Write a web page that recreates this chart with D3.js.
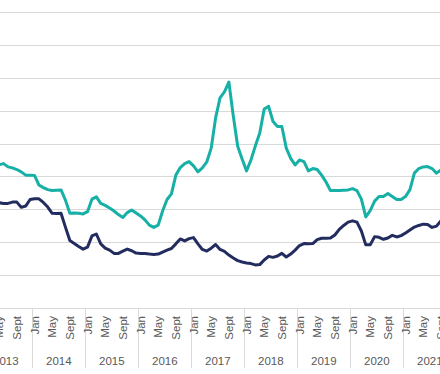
<!DOCTYPE html>
<html>
<head>
<meta charset="utf-8">
<script src="https://cdn.jsdelivr.net/npm/d3@7"></script>
<style>
  html, body { margin: 0; padding: 0; background: #ffffff; overflow: hidden; }
  svg { display: block; }
  text { font-family: "Liberation Sans", Arial, sans-serif; fill: #595959; }
</style>
</head>
<body>
<div id="chart"></div>
<script>
// ---- data ----
const years = [2013, 2014, 2015, 2016, 2017, 2018, 2019, 2020, 2021];
const monthNames = ["Jan","Feb","Mar","Apr","May","Jun","Jul","Aug","Sept","Oct","Nov","Dec"];
const shownMonthLabels = ["Jan", "May", "Sept"];
const seriesStart = { year: 2013, month: 3 }; // April 2013 (0-based month)

const tealValues = [
  43.8, 43.6, 43.9, 42.9, 42.6, 42.1, 41.4, 40.4, 40.4,
  40.3, 37.4, 36.6, 36.0, 35.7, 35.8, 35.9, 32.8, 28.8, 28.9, 28.8, 28.6,
  29.3, 33.1, 33.8, 31.8, 31.2, 30.4, 29.5, 28.4, 27.5, 29.0, 29.8, 28.9,
  28.0, 26.8, 25.2, 24.5, 25.2, 29.5, 33.0, 34.7, 40.4, 42.7, 43.9, 44.5,
  43.2, 41.4, 42.6, 44.4, 48.6, 57.8, 63.9, 65.7, 68.7, 58.4, 49.2, 45.3,
  41.7, 45.0, 49.3, 53.2, 60.5, 61.3, 56.7, 55.2, 55.2, 48.6, 45.5, 43.5,
  45.0, 44.5, 41.7, 42.4, 42.1, 40.4, 38.3, 35.7, 35.7, 35.7, 35.8, 35.9,
  36.3, 35.7, 33.1, 27.7, 29.6, 32.5, 33.9, 33.9, 34.8, 33.9, 33.0, 33.0,
  33.9, 36.0, 41.0, 42.4, 42.9, 43.0, 42.4, 41.0, 42.0
];
const navyValues = [
  31.9, 32.0, 31.8, 31.8, 32.2, 32.2, 30.6, 31.0, 33.0,
  33.2, 33.2, 32.1, 30.7, 28.8, 28.7, 28.8, 24.6, 20.5, 19.6, 18.7, 17.9,
  18.5, 21.9, 22.5, 19.5, 18.2, 17.6, 16.6, 16.6, 17.3, 17.9, 17.4, 16.7,
  16.6, 16.6, 16.4, 16.3, 16.4, 17.0, 17.6, 18.1, 19.5, 21.0, 20.4, 21.1,
  21.4, 19.5, 17.8, 17.3, 18.2, 19.3, 17.8, 17.2, 16.1, 15.2, 14.4, 14.0,
  13.7, 13.5, 13.1, 13.2, 14.6, 15.7, 15.4, 15.8, 16.6, 15.5, 16.4, 17.6,
  19.0, 19.6, 19.5, 19.6, 20.8, 21.2, 21.2, 21.3, 22.2, 23.9, 25.1, 26.1,
  26.5, 26.1, 23.4, 19.2, 19.2, 21.7, 21.5, 20.9, 21.3, 22.1, 21.6, 22.0,
  22.8, 23.7, 24.6, 25.1, 25.5, 25.4, 24.5, 24.9, 26.5
];
const gridValues = [10, 20, 30, 40, 50, 60, 70, 80, 90];

// ---- layout ----
const W = 440, H = 374;
const plotLeft = -20.7, monthW = 4.417;
const axisY = 308, topY = 12;

const months = [];
years.forEach(y => monthNames.forEach((m, mi) => months.push({ key: y + "-" + mi, year: y, mi, name: m })));

const x = d3.scaleBand()
  .domain(months.map(d => d.key))
  .range([plotLeft, plotLeft + months.length * monthW])
  .paddingInner(0).paddingOuter(0);
const xc = k => x(k) + x.bandwidth() / 2;
const y = d3.scaleLinear().domain([0, 90]).range([axisY, topY]);

const svg = d3.select("#chart").append("svg").attr("width", W).attr("height", H);

// gridlines
svg.append("g").selectAll("line").data(gridValues).join("line")
  .attr("x1", 0).attr("x2", W)
  .attr("y1", d => Math.round(y(d)) + 0.5).attr("y2", d => Math.round(y(d)) + 0.5)
  .attr("stroke", "#d9d9d9").attr("stroke-width", 1);

// x axis line
svg.append("line")
  .attr("x1", 0).attr("x2", W)
  .attr("y1", Math.round(y(0)) + 0.5).attr("y2", Math.round(y(0)) + 0.5)
  .attr("stroke", "#d9d9d9").attr("stroke-width", 1);

// year separators
const yearBounds = years.map(yr => x(yr + "-0")).concat([x(years[years.length - 1] + "-11") + x.bandwidth()]);
svg.append("g").selectAll("line").data(yearBounds).join("line")
  .attr("x1", d => Math.round(d) + 0.5).attr("x2", d => Math.round(d) + 0.5)
  .attr("y1", axisY).attr("y2", 368)
  .attr("stroke", "#d9d9d9").attr("stroke-width", 1);

// month labels
svg.append("g").selectAll("text")
  .data(months.filter(d => shownMonthLabels.includes(d.name)))
  .join("text")
  .attr("transform", d => `translate(${xc(d.key)},${axisY + 8}) rotate(-90)`)
  .attr("text-anchor", "end")
  .attr("dy", "0.35em")
  .style("font-size", "11.5px")
  .text(d => d.name);

// year labels
svg.append("g").selectAll("text").data(years).join("text")
  .attr("x", yr => x(yr + "-0") + 6 * monthW)
  .attr("y", 364.5)
  .attr("text-anchor", "middle")
  .style("font-size", "11.5px")
  .text(yr => yr);

// series
const startIdx = (seriesStart.year - years[0]) * 12 + seriesStart.month;
const toPts = vals => vals.map((v, i) => ({ k: months[startIdx + i].key, v }));
const line = d3.line().x(d => xc(d.k)).y(d => y(d.v)).curve(d3.curveLinear);

svg.append("path").datum(toPts(navyValues))
  .attr("d", line).attr("fill", "none")
  .attr("stroke", "#232c5e").attr("stroke-width", 3)
  .attr("stroke-linejoin", "round").attr("stroke-linecap", "round");

svg.append("path").datum(toPts(tealValues))
  .attr("d", line).attr("fill", "none")
  .attr("stroke", "#16b0a6").attr("stroke-width", 3)
  .attr("stroke-linejoin", "round").attr("stroke-linecap", "round");
</script>
</body>
</html>
